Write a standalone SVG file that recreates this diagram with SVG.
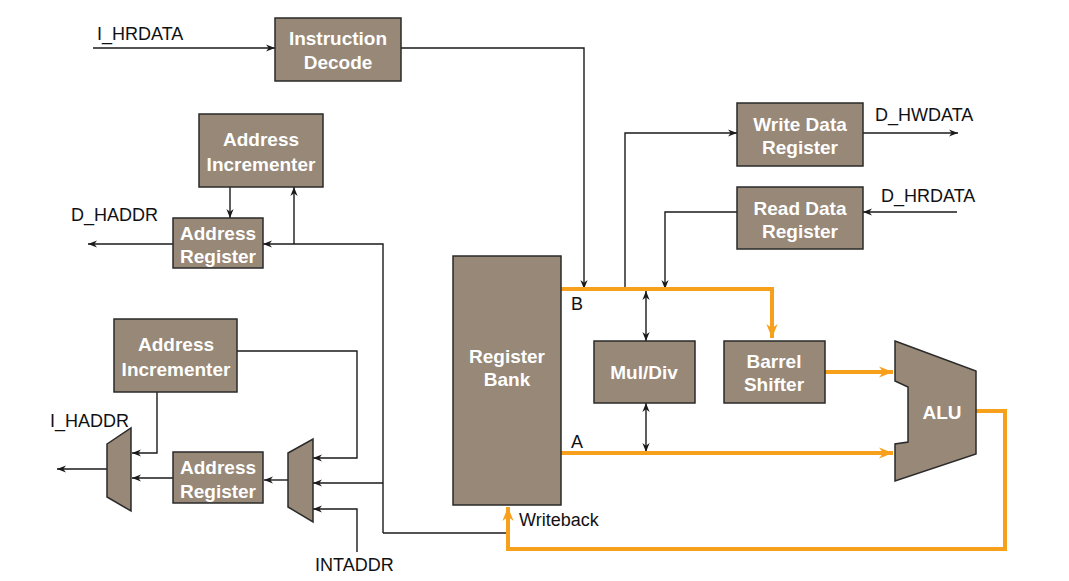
<svg xmlns="http://www.w3.org/2000/svg" width="1069" height="581" viewBox="0 0 1069 581">
<defs>
<marker id="ab" viewBox="0 0 10 10" refX="10" refY="5" markerWidth="9" markerHeight="9" markerUnits="userSpaceOnUse" orient="auto-start-reverse">
<path d="M0,1 L10,5 L0,9 L3,5 Z" fill="#1a1a1a"/>
</marker>
<marker id="ao" viewBox="0 0 10 10" refX="10" refY="5" markerWidth="14" markerHeight="14" markerUnits="userSpaceOnUse" orient="auto">
<path d="M0,1 L10,5 L0,9 L3,5 Z" fill="#f7a01c"/>
</marker>
</defs>
<style>
.box{fill:#978877;stroke:#2a2a2a;stroke-width:1.5}
.bt{font-family:"Liberation Sans",Arial,sans-serif;font-weight:bold;font-size:19px;fill:#fff;text-anchor:middle}
.lb{font-family:"Liberation Sans",Arial,sans-serif;font-size:18px;fill:#111}
.w{fill:none;stroke:#1a1a1a;stroke-width:1.4}
.o{fill:none;stroke:#f7a01c;stroke-width:4}
</style>
<rect width="1069" height="581" fill="#fff"/>
<g id="connectors">
<path class="w" d="M93,48 H275" marker-end="url(#ab)"/>
<path class="w" d="M401,48 H584 V289" marker-end="url(#ab)"/>
<path class="w" d="M230,187 V218" marker-end="url(#ab)"/>
<path class="w" d="M294,244 V187" marker-end="url(#ab)"/>
<path class="w" d="M173,244 H88" marker-end="url(#ab)"/>
<path class="w" d="M383,533 V244 H263" marker-end="url(#ab)"/>
<path class="w" d="M383,533 H508"/>
<path class="w" d="M383,483 H313" marker-end="url(#ab)"/>
<path class="w" d="M237,351 H357 V458 H313" marker-end="url(#ab)"/>
<path class="w" d="M157,392 V453 H132" marker-end="url(#ab)"/>
<path class="w" d="M107,469 H57" marker-end="url(#ab)"/>
<path class="w" d="M173,478 H132" marker-end="url(#ab)"/>
<path class="w" d="M288,480 H264" marker-end="url(#ab)"/>
<path class="w" d="M357,552 V509 H313" marker-end="url(#ab)"/>
<path class="w" d="M625,289 V133 H737" marker-end="url(#ab)"/>
<path class="w" d="M863,133 H958" marker-end="url(#ab)"/>
<path class="w" d="M957,212 H863" marker-end="url(#ab)"/>
<path class="w" d="M737,212 H665 V289" marker-end="url(#ab)"/>
<path class="w" d="M646,291 V341" marker-start="url(#ab)" marker-end="url(#ab)"/>
<path class="w" d="M646,403 V452" marker-start="url(#ab)" marker-end="url(#ab)"/>
<path class="o" d="M561,289 H772 V338" marker-end="url(#ao)"/>
<path class="o" d="M561,453 H893" marker-end="url(#ao)"/>
<path class="o" d="M825,372 H893" marker-end="url(#ao)"/>
<path class="o" d="M976,411 H1005 V549 H508 V507" marker-end="url(#ao)"/>
</g>
<g id="instruction-decode"><rect class="box" x="275" y="18" width="126" height="63"/><text class="bt" x="338" y="45">Instruction</text><text class="bt" x="338" y="69">Decode</text></g>
<g id="addr-inc-1"><rect class="box" x="199" y="114" width="124" height="73"/><text class="bt" x="261" y="146">Address</text><text class="bt" x="261" y="171">Incrementer</text></g>
<g id="addr-reg-1"><rect class="box" x="173" y="218" width="90" height="50"/><text class="bt" x="218" y="240">Address</text><text class="bt" x="218" y="263">Register</text></g>
<g id="addr-inc-2"><rect class="box" x="114" y="319" width="123" height="73"/><text class="bt" x="176" y="351">Address</text><text class="bt" x="176" y="376">Incrementer</text></g>
<g id="mux-1"><polygon class="box" points="107,444 131,428 131,511 107,497"/></g>
<g id="addr-reg-2"><rect class="box" x="173" y="452" width="90" height="51"/><text class="bt" x="218" y="474">Address</text><text class="bt" x="218" y="498">Register</text></g>
<g id="mux-2"><polygon class="box" points="288,453 313,439 313,522 288,507"/></g>
<g id="register-bank"><rect class="box" x="453" y="256" width="108" height="249"/><text class="bt" x="507" y="363">Register</text><text class="bt" x="507" y="386">Bank</text></g>
<g id="write-data"><rect class="box" x="737" y="103" width="126" height="63"/><text class="bt" x="800" y="131">Write Data</text><text class="bt" x="800" y="154">Register</text></g>
<g id="read-data"><rect class="box" x="737" y="187" width="126" height="62"/><text class="bt" x="800" y="215">Read Data</text><text class="bt" x="800" y="238">Register</text></g>
<g id="mul-div"><rect class="box" x="594" y="341" width="101" height="62"/><text class="bt" x="644" y="379">Mul/Div</text></g>
<g id="barrel-shifter"><rect class="box" x="724" y="341" width="101" height="62"/><text class="bt" x="774" y="368">Barrel</text><text class="bt" x="774" y="391">Shifter</text></g>
<g id="alu"><polygon class="box" points="895,341 976,371 976,454 895,481 895,444 908,442 908,387 895,381"/><text class="bt" x="942" y="419">ALU</text></g>
<g id="labels">
<text class="lb" x="97" y="40">I_HRDATA</text>
<text class="lb" x="71" y="221">D_HADDR</text>
<text class="lb" x="50" y="427">I_HADDR</text>
<text class="lb" x="315" y="571">INTADDR</text>
<text class="lb" x="571" y="310">B</text>
<text class="lb" x="571" y="448">A</text>
<text class="lb" x="519" y="526">Writeback</text>
<text class="lb" x="875" y="121">D_HWDATA</text>
<text class="lb" x="881" y="202">D_HRDATA</text>
</g>
</svg>
